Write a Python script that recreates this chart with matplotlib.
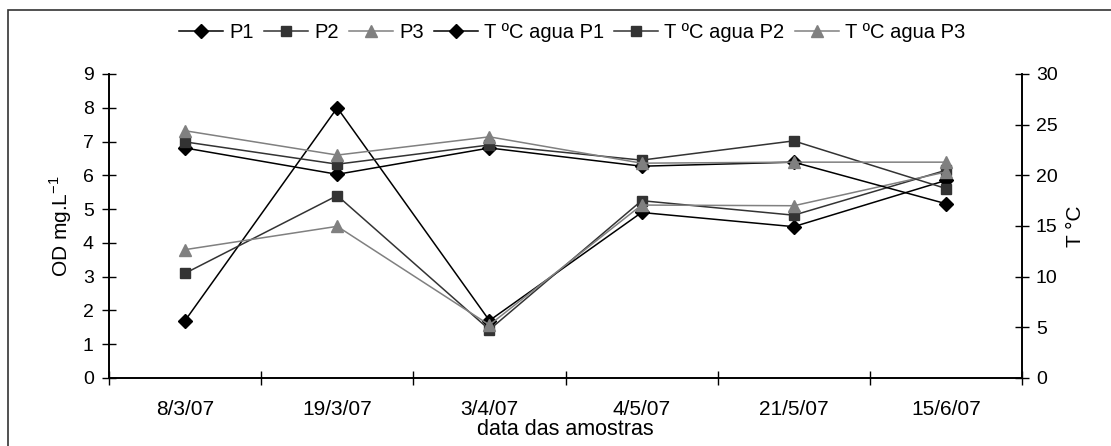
import matplotlib
matplotlib.use("Agg")
import matplotlib.pyplot as plt
from matplotlib.patches import Rectangle

plt.rcParams['font.family'] = ['Liberation Sans', 'DejaVu Sans']
plt.rcParams['font.size'] = 14

dates = ["8/3/07", "19/3/07", "3/4/07", "4/5/07", "21/5/07", "15/6/07"]
od_p1 = [1.70, 8.00, 1.70, 4.90, 4.48, 5.85]
od_p2 = [3.10, 5.40, 1.43, 5.25, 4.82, 6.15]
od_p3 = [3.80, 4.49, 1.57, 5.12, 5.10, 6.10]
t_p1 = [22.7, 20.1, 22.7, 20.9, 21.3, 17.2]
t_p2 = [23.3, 21.1, 23.0, 21.5, 23.4, 18.7]
t_p3 = [24.4, 22.0, 23.8, 21.2, 21.3, 21.3]

W, H = 1111, 446
fig = plt.figure(figsize=(W / 100, H / 100), dpi=100)
ax = fig.add_axes([109 / W, 1 - 378 / H, (1022 - 109) / W, (378 - 74) / H])
ax2 = ax.twinx()

x = list(range(len(dates)))
c1, c2, c3 = "#000000", "#333333", "#808080"
styles = [
    (c1, "D", 7),
    (c2, "s", 6.5),
    (c3, "^", 8),
]
handles = []
labels = ["P1", "P2", "P3", "T ºC agua P1", "T ºC agua P2", "T ºC agua P3"]
for (col, m, ms), ys in zip(styles, [od_p1, od_p2, od_p3]):
    h, = ax.plot(x, ys, color=col, marker=m, markersize=ms, lw=1.1,
                 markeredgecolor=col, markerfacecolor=col, clip_on=False, zorder=3)
    handles.append(h)
for (col, m, ms), ys in zip(styles, [t_p1, t_p2, t_p3]):
    h, = ax2.plot(x, ys, color=col, marker=m, markersize=ms, lw=1.1,
                  markeredgecolor=col, markerfacecolor=col, clip_on=False, zorder=3)
    handles.append(h)

ax.set_xlim(-0.5, len(dates) - 0.5)
ax.set_ylim(0, 9)
ax2.set_ylim(0, 30)
ax.set_yticks(range(0, 10))
ax2.set_yticks(range(0, 31, 5))
ax.set_xticks([i + 0.5 for i in range(-1, len(dates))], minor=False)
ax.set_xticklabels([])
ax.set_xticks(x, minor=True)
ax.set_xticklabels(dates, minor=True, fontsize=15)
ax.tick_params(axis='x', which='minor', length=0, pad=16)
ax.tick_params(axis='x', which='major', direction='inout', length=10, width=1)
ax.tick_params(axis='y', direction='inout', length=10, width=1, pad=6, labelsize=14)
ax2.tick_params(axis='y', direction='inout', length=10, width=1, pad=5, labelsize=14)

for a in (ax, ax2):
    for s in a.spines.values():
        s.set_linewidth(1.2)
        s.set_color("black")
ax.spines['top'].set_visible(False)
ax2.spines['top'].set_visible(False)

ax.set_ylabel("OD mg.L$^{\\mathregular{-1}}$", labelpad=6, fontsize=15)
ax2.set_ylabel("T °C", labelpad=6, fontsize=15)
ax.set_xlabel("data das amostras", labelpad=0, fontsize=15.5)

fig.legend(handles, labels, loc="center", bbox_to_anchor=(572 / W, 1 - 33 / H),
           ncol=6, frameon=False, handlelength=2.2, handletextpad=0.3,
           columnspacing=0.5, fontsize=14.5)

fig.patches.append(Rectangle((8 / W, -0.1), 1.2, 1 - 10 / H + 0.1,
                             transform=fig.transFigure, fill=False,
                             edgecolor="#333333", linewidth=1.2))

fig.savefig("out.png", dpi=100)
